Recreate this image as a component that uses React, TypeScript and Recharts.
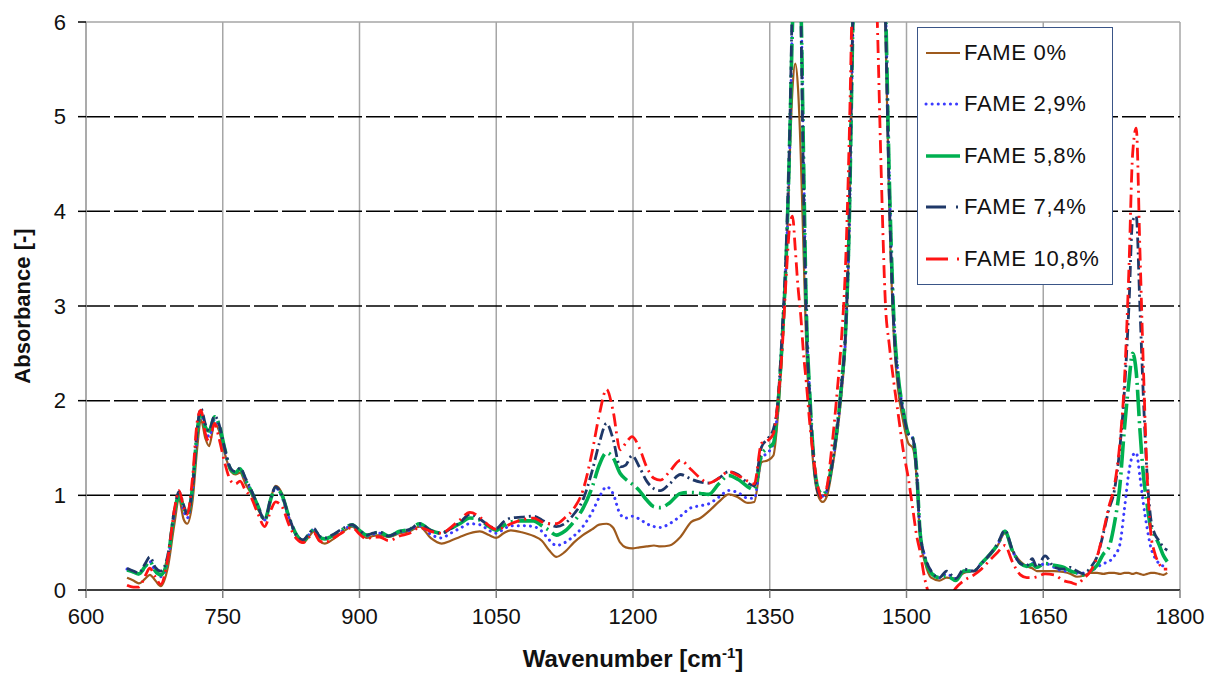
import React from "react";
import { LineChart, Line, XAxis, YAxis, CartesianGrid, ReferenceLine, Legend, Label } from "recharts";

const FONT = "'Liberation Sans', Arial, sans-serif";

// wavenumber grid (cm-1)
const wavenumbers = [
  645, 652, 658, 665, 670, 676, 682, 690, 697, 702,
  707, 711, 717, 722, 726, 731, 735, 741, 746, 752,
  759, 764, 769, 775, 781, 788, 796, 803, 808, 815,
  823, 831, 838, 845, 850, 856, 862, 870, 880, 892,
  900, 908, 915, 922, 932, 944, 955, 966, 978, 990,
  1000, 1010, 1021, 1032, 1042, 1050, 1058, 1066, 1078, 1091,
  1100, 1108, 1116, 1125, 1135, 1145, 1155, 1163, 1171, 1178,
  1186, 1192, 1199, 1207, 1215, 1223, 1230, 1240, 1252, 1264,
  1274, 1283, 1294, 1305, 1315, 1326, 1333, 1341, 1348, 1354,
  1359, 1364, 1368, 1372, 1375, 1378, 1381, 1384, 1387, 1390,
  1394, 1398, 1403, 1408, 1413, 1418, 1424, 1429, 1433, 1437,
  1441, 1445, 1450, 1460, 1468, 1472, 1477, 1481, 1486, 1491,
  1496, 1502, 1507, 1511, 1515, 1520, 1527, 1536, 1544, 1554,
  1563, 1574, 1582, 1590, 1600, 1608, 1616, 1625, 1632, 1638,
  1643, 1652, 1662, 1672, 1680, 1687, 1694, 1702, 1709, 1716,
  1722, 1728, 1734, 1739, 1744, 1748, 1752, 1756, 1760, 1764,
  1768, 1772, 1777, 1782, 1786,
];

const fame0 = [
  0.13, 0.10, 0.07, 0.12, 0.16, 0.10, 0.04, 0.25, 0.70, 0.96,
  0.75, 0.70, 0.95, 1.50, 1.80, 1.60, 1.52, 1.76, 1.68, 1.45,
  1.25, 1.22, 1.24, 1.12, 1.02, 0.87, 0.74, 0.98, 1.10, 1.02,
  0.76, 0.56, 0.50, 0.57, 0.62, 0.52, 0.49, 0.53, 0.60, 0.67,
  0.60, 0.55, 0.57, 0.58, 0.56, 0.60, 0.62, 0.67, 0.55, 0.49,
  0.52, 0.56, 0.60, 0.62, 0.58, 0.55, 0.60, 0.63, 0.61, 0.57,
  0.52, 0.42, 0.35, 0.40, 0.50, 0.58, 0.64, 0.69, 0.70, 0.66,
  0.50, 0.45, 0.44, 0.45, 0.46, 0.47, 0.46, 0.47, 0.56, 0.72,
  0.76, 0.83, 0.93, 1.01, 0.98, 0.92, 0.93, 1.35, 1.37, 1.42,
  1.85, 2.6, 3.4, 4.6, 5.3, 5.56, 5.3, 4.6, 3.6, 2.6,
  1.85, 1.3, 1.0, 0.93, 1.0, 1.25, 1.65, 2.1, 2.6, 3.7,
  6.0, 7.4, 8.0, 8.5, 8.0, 7.5, 5.9, 4.1, 2.7, 2.1,
  1.8, 1.55, 1.5, 1.2, 0.55, 0.3, 0.13, 0.1, 0.13, 0.12,
  0.18, 0.2, 0.28, 0.35, 0.47, 0.6, 0.42, 0.3, 0.25, 0.23,
  0.2, 0.2, 0.2, 0.19, 0.17, 0.14, 0.15, 0.18, 0.18, 0.17,
  0.18, 0.18, 0.17, 0.18, 0.18, 0.17, 0.18, 0.17, 0.16, 0.17,
  0.18, 0.18, 0.17, 0.16, 0.18,
];

const fame29 = [
  0.22, 0.19, 0.17, 0.24, 0.30, 0.20, 0.14, 0.32, 0.80, 1.00,
  0.84, 0.76, 1.05, 1.62, 1.86, 1.70, 1.62, 1.80, 1.72, 1.48,
  1.27, 1.24, 1.27, 1.16, 1.05, 0.90, 0.74, 0.97, 1.08, 0.98,
  0.75, 0.57, 0.52, 0.59, 0.64, 0.56, 0.54, 0.57, 0.62, 0.68,
  0.62, 0.57, 0.59, 0.60, 0.57, 0.61, 0.63, 0.68, 0.59, 0.55,
  0.60, 0.65, 0.70, 0.69, 0.63, 0.60, 0.64, 0.68, 0.68, 0.67,
  0.62, 0.53, 0.47, 0.50, 0.57, 0.67, 0.82, 0.98, 1.09, 1.02,
  0.80, 0.76, 0.78, 0.75, 0.70, 0.67, 0.66, 0.70, 0.78, 0.87,
  0.89, 0.91, 0.98, 1.05, 1.03, 0.97, 0.97, 1.40, 1.45, 1.55,
  1.95, 2.7, 3.5, 4.7, 6.1, 7.0, 7.1, 6.4, 4.6, 3.0,
  2.05, 1.4, 1.05, 0.99, 1.06, 1.28, 1.7, 2.15, 2.65, 3.7,
  5.8, 7.4, 8.0, 8.5, 8.0, 7.6, 6.2, 4.4, 2.9, 2.25,
  1.92, 1.65, 1.6, 1.28, 0.6, 0.36, 0.2, 0.13, 0.17, 0.12,
  0.2, 0.2, 0.28, 0.36, 0.48, 0.62, 0.42, 0.28, 0.26, 0.28,
  0.24, 0.28, 0.24, 0.2, 0.2, 0.18, 0.18, 0.2, 0.24, 0.28,
  0.3, 0.36, 0.48, 0.85, 1.25, 1.42, 1.45, 1.2, 0.9, 0.65,
  0.45, 0.35, 0.28, 0.25, 0.22,
];

const fame58 = [
  0.21, 0.19, 0.17, 0.25, 0.30, 0.20, 0.16, 0.35, 0.82, 1.00,
  0.88, 0.80, 1.10, 1.68, 1.88, 1.72, 1.68, 1.83, 1.75, 1.50,
  1.27, 1.24, 1.28, 1.16, 1.05, 0.90, 0.74, 0.97, 1.08, 1.00,
  0.76, 0.58, 0.52, 0.59, 0.64, 0.56, 0.54, 0.57, 0.63, 0.69,
  0.63, 0.58, 0.60, 0.61, 0.57, 0.62, 0.64, 0.70, 0.63, 0.60,
  0.65, 0.70, 0.76, 0.74, 0.67, 0.63, 0.68, 0.72, 0.73, 0.73,
  0.68, 0.63, 0.58, 0.62, 0.72, 0.86, 1.08, 1.32, 1.45, 1.40,
  1.23, 1.17, 1.12, 1.05, 0.95, 0.88, 0.87, 0.92, 1.02, 1.03,
  1.02, 1.01, 1.12, 1.21, 1.17, 1.09, 1.06, 1.43, 1.50, 1.55,
  1.95, 2.7, 3.5, 4.8, 6.0, 6.9, 7.0, 6.3, 4.6, 3.0,
  2.05, 1.42, 1.07, 1.01, 1.08, 1.32, 1.72, 2.2, 2.7, 3.8,
  5.9, 7.4, 8.0, 8.5, 8.0, 7.6, 6.2, 4.4, 2.9, 2.25,
  1.92, 1.65, 1.6, 1.28, 0.6, 0.34, 0.18, 0.13, 0.15, 0.1,
  0.2, 0.2, 0.28, 0.36, 0.48, 0.62, 0.42, 0.28, 0.25, 0.27,
  0.24, 0.28, 0.26, 0.24, 0.2, 0.18, 0.16, 0.2, 0.26, 0.38,
  0.45, 0.7, 1.1, 1.7, 2.2, 2.5, 2.3, 1.7, 1.2, 0.9,
  0.65, 0.58, 0.48, 0.36, 0.3,
];

const fame74 = [
  0.23, 0.20, 0.18, 0.28, 0.35, 0.24, 0.20, 0.38, 0.85, 1.04,
  0.90, 0.80, 1.10, 1.70, 1.92, 1.75, 1.68, 1.84, 1.75, 1.50,
  1.28, 1.25, 1.29, 1.18, 1.06, 0.90, 0.74, 0.98, 1.09, 1.00,
  0.76, 0.58, 0.53, 0.60, 0.65, 0.57, 0.55, 0.58, 0.64, 0.69,
  0.63, 0.58, 0.60, 0.61, 0.57, 0.62, 0.64, 0.70, 0.63, 0.60,
  0.65, 0.71, 0.80, 0.75, 0.68, 0.65, 0.72, 0.76, 0.77, 0.78,
  0.74, 0.70, 0.67, 0.70, 0.80, 0.95, 1.25, 1.55, 1.76, 1.60,
  1.30, 1.32, 1.42, 1.30, 1.15, 1.07, 1.05, 1.12, 1.22, 1.17,
  1.14, 1.13, 1.18, 1.25, 1.22, 1.13, 1.10, 1.51, 1.60, 1.70,
  2.0, 2.8, 3.6, 4.9, 6.3, 7.0, 7.0, 6.1, 4.3, 2.9,
  2.0, 1.4, 1.03, 0.97, 1.06, 1.3, 1.72, 2.2, 2.7, 3.9,
  6.0, 7.5, 8.0, 8.5, 8.0, 7.5, 6.0, 4.2, 2.8, 2.2,
  1.9, 1.65, 1.6, 1.25, 0.6, 0.36, 0.2, 0.13, 0.2, 0.12,
  0.22, 0.2, 0.28, 0.36, 0.49, 0.63, 0.43, 0.28, 0.26, 0.33,
  0.24, 0.36, 0.24, 0.22, 0.24, 0.2, 0.17, 0.24, 0.35, 0.6,
  0.85, 1.05, 1.5, 2.1, 3.0, 3.9, 3.95, 3.0, 2.0, 1.2,
  0.75, 0.6, 0.52, 0.45, 0.42,
];

const fame108 = [
  0.05, 0.03, 0.03, 0.15, 0.23, 0.14, 0.06, 0.35, 0.85, 1.05,
  0.88, 0.80, 1.20, 1.78, 1.90, 1.65, 1.57, 1.76, 1.60, 1.35,
  1.15, 1.12, 1.15, 1.05, 0.98, 0.82, 0.67, 0.85, 0.93, 0.88,
  0.68, 0.54, 0.50, 0.56, 0.60, 0.52, 0.50, 0.54, 0.60, 0.66,
  0.59, 0.54, 0.56, 0.56, 0.52, 0.57, 0.60, 0.66, 0.62, 0.60,
  0.66, 0.74, 0.82, 0.77, 0.68, 0.64, 0.66, 0.70, 0.74, 0.76,
  0.72, 0.70, 0.70, 0.76, 0.86, 1.05, 1.45, 1.85, 2.12, 1.90,
  1.48, 1.55, 1.62, 1.50, 1.30, 1.18, 1.16, 1.25, 1.37, 1.27,
  1.18, 1.13, 1.18, 1.25, 1.21, 1.15, 1.12, 1.55, 1.58, 1.65,
  2.0, 2.6, 3.3, 3.85, 3.95, 3.6, 3.2, 2.9, 2.5, 2.2,
  1.75, 1.4, 1.08, 0.96, 1.1, 1.5, 2.1, 2.7, 3.4, 4.7,
  6.5, 7.8, 8.0, 8.0, 6.0, 4.5, 3.0, 2.6, 2.2, 1.85,
  1.5, 1.18, 0.85, 0.58, 0.4, 0.12, -0.1, -0.2, -0.15, 0.02,
  0.1, 0.16, 0.22, 0.3, 0.4, 0.47, 0.3, 0.16, 0.13, 0.13,
  0.14, 0.17, 0.16, 0.1, 0.08, 0.06, 0.12, 0.2, 0.35, 0.62,
  0.88, 1.1, 1.55, 2.2, 3.4, 4.6, 4.88, 3.6, 2.3, 1.2,
  0.6, 0.4, 0.28, 0.22, 0.22,
];

const seriesNames = ["FAME 0%", "FAME 2,9%", "FAME 5,8%", "FAME 7,4%", "FAME 10,8%"];
const xTicks = [600, 750, 900, 1050, 1200, 1350, 1500, 1650, 1800];
const yTicks = [0, 1, 2, 3, 4, 5, 6];

const data = wavenumbers.map((x, i) => ({
  x,
  f0: fame0[i],
  f29: fame29[i],
  f58: fame58[i],
  f74: fame74[i],
  f108: fame108[i],
}));

const series = [
  { key: "f0", name: seriesNames[0], color: "#9E5A1D", width: 2.2, dash: undefined, cap: "butt", legendDash: undefined },
  { key: "f29", name: seriesNames[1], color: "#3B3BFF", width: 3, dash: "0.1 6", cap: "round", legendDash: "0.1 6" },
  { key: "f58", name: seriesNames[2], color: "#00B050", width: 3.6, dash: "26 5 2 5", cap: "butt", legendDash: undefined },
  { key: "f74", name: seriesNames[3], color: "#1F3868", width: 2.8, dash: "11 4 2 4", cap: "butt", legendDash: "20 10 2 10" },
  { key: "f108", name: seriesNames[4], color: "#FF1414", width: 2.8, dash: "13 5 2 5", cap: "butt", legendDash: "22 9 2 10" },
];

const LegendBox = () => (
  <div
    style={{
      position: "relative",
      width: 196,
      height: 258,
      boxSizing: "border-box",
      border: "1.5px solid #3A5587",
      background: "#fff",
      fontFamily: FONT,
      fontSize: 22,
      letterSpacing: 0.7,
      color: "#111",
    }}
  >
    {series.map((s, i) => (
      <div
        key={s.key}
        style={{ position: "absolute", left: 6, top: 24.5 + i * 51.6 - 14, height: 28, display: "flex", alignItems: "center", whiteSpace: "nowrap" }}
      >
        <svg width={40} height={10} style={{ display: "block" }}>
          <line
            x1={2}
            x2={36}
            y1={5}
            y2={5}
            stroke={s.color}
            strokeWidth={s.width}
            strokeDasharray={s.legendDash}
            strokeLinecap={s.cap as any}
          />
        </svg>
        <span style={{ marginLeft: 0 }}>{s.name}</span>
      </div>
    ))}
  </div>
);

const YTitle = (props: any) => {
  const { viewBox } = props;
  const cx = viewBox.x - 4;
  const cy = viewBox.y + viewBox.height / 2;
  return (
    <text
      x={cx}
      y={cy}
      transform={`rotate(-90, ${cx}, ${cy})`}
      textAnchor="middle"
      dominantBaseline="central"
      fontFamily={FONT}
      fontWeight="bold"
      fontSize={22}
      fill="#111"
    >
      Absorbance [-]
    </text>
  );
};

const XTitle = (props: any) => {
  const { viewBox } = props;
  const cx = viewBox.x + viewBox.width / 2;
  return (
    <text x={cx} y={viewBox.y + 77} textAnchor="middle" fontFamily={FONT} fontWeight="bold" fontSize={24} fill="#111">
      Wavenumber [cm
      <tspan dy={-9} fontSize={15}>-1</tspan>
      <tspan dy={9}>]</tspan>
    </text>
  );
};

export default function App() {
  return (
    <LineChart width={1205} height={665} data={data} margin={{ top: 14, right: 33, left: 18, bottom: 8 }}>
      <CartesianGrid horizontal={false} stroke="#A6A6A6" strokeWidth={1.5} />
      <CartesianGrid vertical={false} horizontalValues={[1, 2, 3, 4, 5]} stroke="#000" strokeWidth={1.5} strokeDasharray="24 4" />
      <ReferenceLine y={6} stroke="#A6A6A6" strokeWidth={1.5} />
      <XAxis
        dataKey="x"
        type="number"
        domain={[600, 1800]}
        ticks={xTicks}
        allowDataOverflow
        height={75}
        tickSize={8}
        tickMargin={10}
        axisLine={{ stroke: "#000", strokeWidth: 1.5 }}
        tickLine={{ stroke: "#808080", strokeWidth: 1.5 }}
        tick={{ fontFamily: FONT, fontSize: 22, fill: "#111" }}
      >
        <Label content={XTitle} />
      </XAxis>
      <YAxis
        type="number"
        domain={[0, 6]}
        ticks={yTicks}
        allowDataOverflow
        width={60}
        tickSize={8}
        tickMargin={12}
        axisLine={{ stroke: "#A6A6A6", strokeWidth: 1.5 }}
        tickLine={{ stroke: "#000", strokeWidth: 1.5 }}
        tick={{ fontFamily: FONT, fontSize: 22, fill: "#111" }}
      >
        <Label content={YTitle} />
      </YAxis>
      {series.map((s) => (
        <Line
          key={s.key}
          type="monotone"
          dataKey={s.key}
          name={s.name}
          stroke={s.color}
          strokeWidth={s.width}
          strokeDasharray={s.dash}
          strokeLinecap={s.cap as any}
          dot={false}
          activeDot={false}
          isAnimationActive={false}
        />
      ))}
      <Legend
        layout="vertical"
        align="center"
        verticalAlign="middle"
        content={LegendBox}
        wrapperStyle={{ left: 909, top: 19, width: 196, height: 258 }}
      />
    </LineChart>
  );
}
